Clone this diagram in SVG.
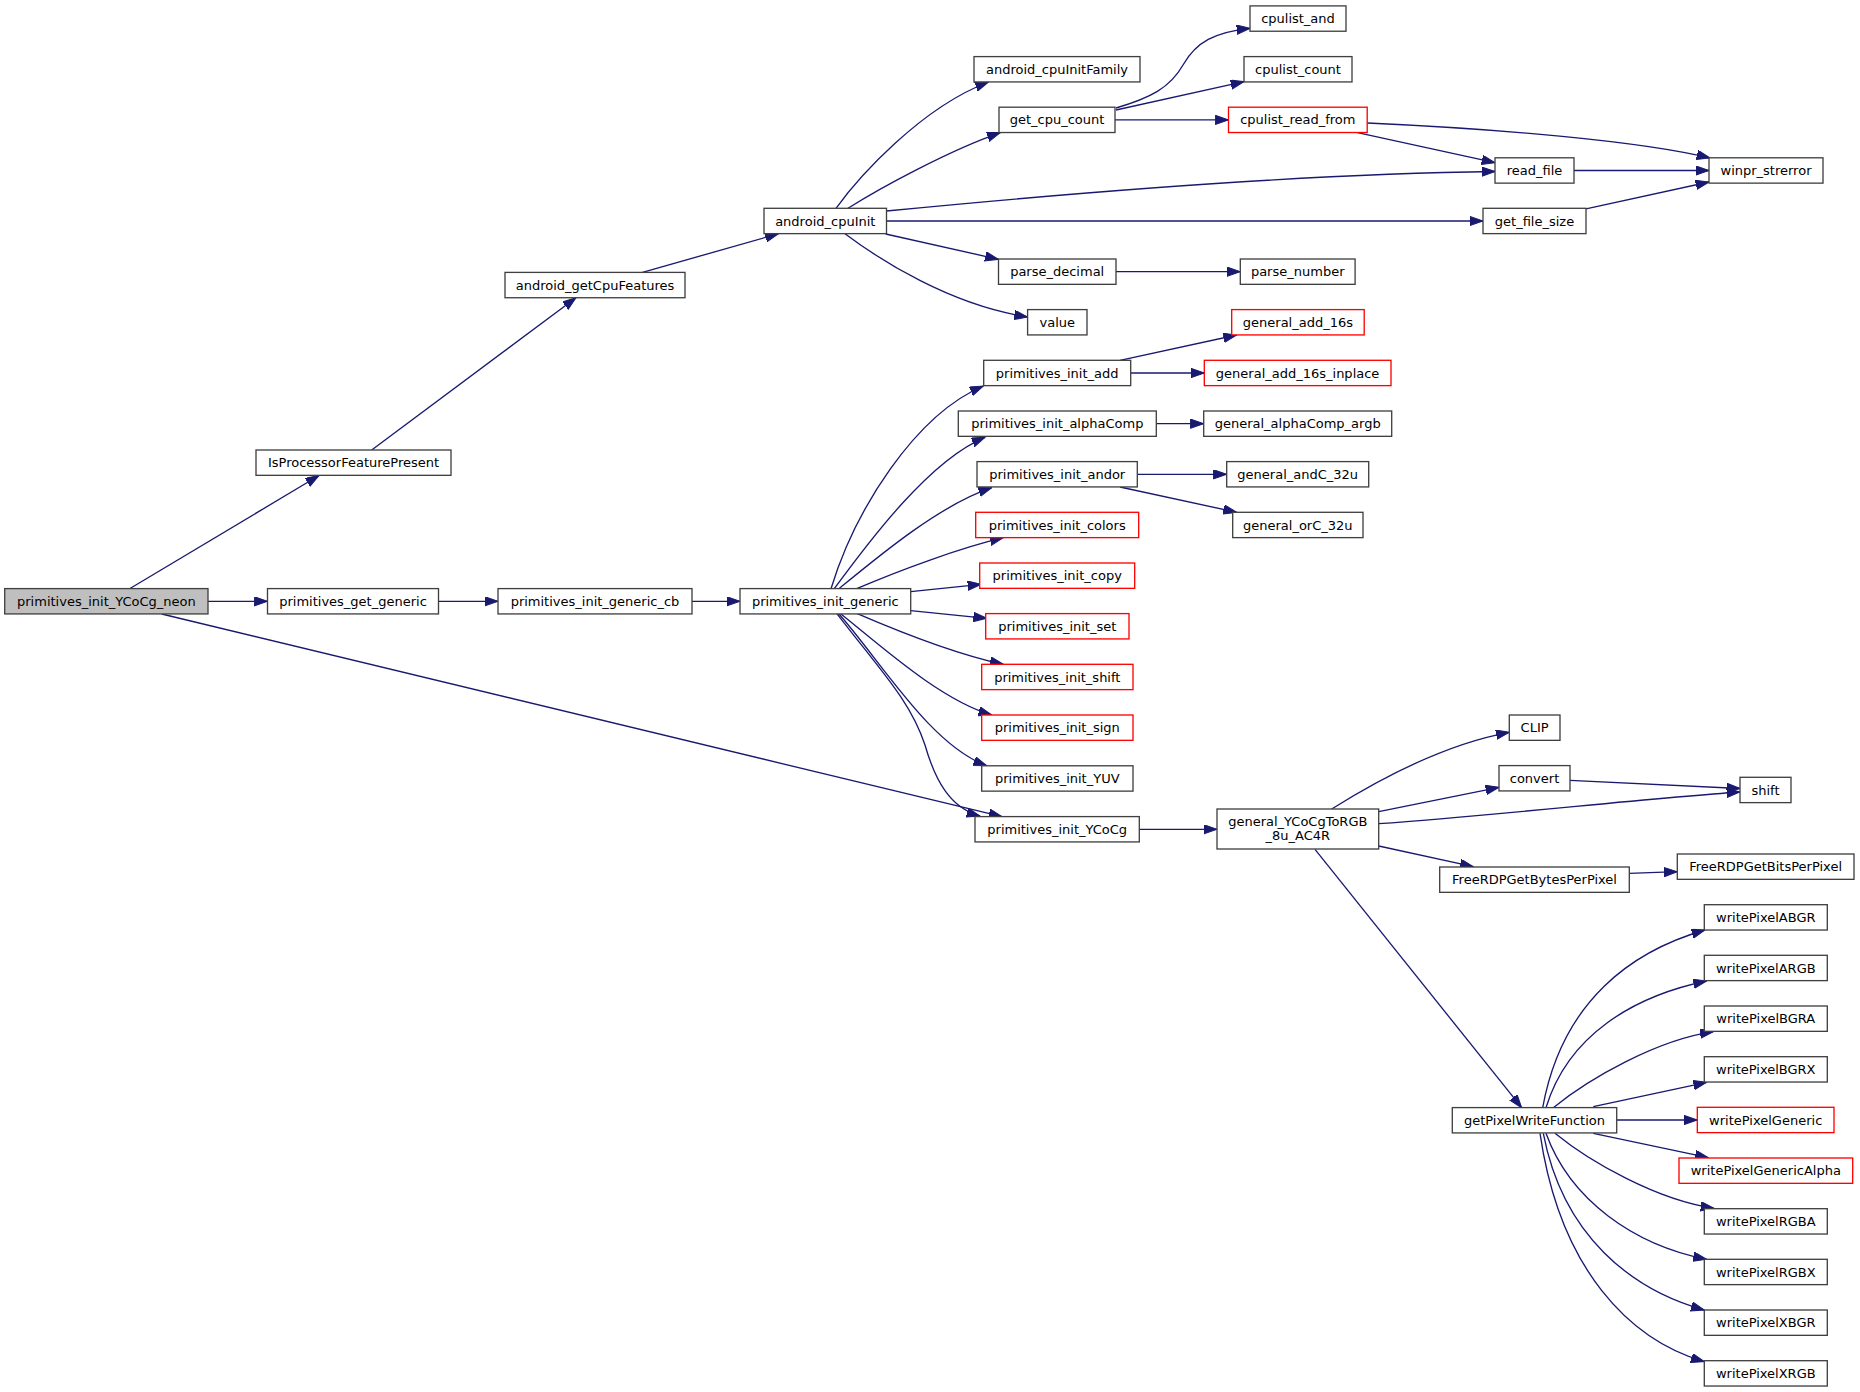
<svg xmlns="http://www.w3.org/2000/svg" width="1860" height="1392" viewBox="0 0 1860 1392">
<defs>
<style>
.n rect{fill:#ffffff;stroke:#404040;stroke-width:1.33}
.r rect{fill:#ffffff;stroke:#ff0000;stroke-width:1.33}
.c rect{fill:#bfbfbf;stroke:#404040;stroke-width:1.33}
text{font-family:"DejaVu Sans","Liberation Sans",sans-serif;font-size:13px;text-anchor:middle;fill:#000000}
#edges path{fill:none;stroke:#191970;stroke-width:1.33;marker-end:url(#a)}
</style>
<marker id="a" markerUnits="userSpaceOnUse" markerWidth="14" markerHeight="10" refX="13.3" refY="4.67" orient="auto">
<path d="M0,0 L13.3,4.67 L0,9.33 z" fill="#191970" stroke="#191970" stroke-width="1"/>
</marker>
</defs>
<rect x="0" y="0" width="1860" height="1392" fill="#ffffff"/>
<g id="edges">
<path d="M130,588.5 L319,475.5"/>
<path d="M208,601.3 L267.5,601.3"/>
<path d="M161.7,614 L1002,816.7"/>
<path d="M438.5,601.3 L498,601.3"/>
<path d="M692,601.3 L740,601.3"/>
<path d="M371.7,450 L576,297.7"/>
<path d="M642.5,272.4 L778.5,233.7"/>
<path d="M836,208.3 C858,178 920,108 988.5,82"/>
<path d="M848,208.3 C880,188 950,150 1000.4,132.6"/>
<path d="M886.5,211 C1050,195 1300,174 1495,171.5"/>
<path d="M886.5,221 L1483,221"/>
<path d="M885.7,234 L998.4,259.3"/>
<path d="M845,233.7 C880,260 950,305 1027.6,317"/>
<path d="M1116,108 C1150,98 1170,88 1183,65 C1196,42 1215,32 1250,28.3"/>
<path d="M1116,110 L1244,81.7"/>
<path d="M1115,119.9 L1228.5,119.9"/>
<path d="M1367.3,123 C1500,129 1640,141 1710,158"/>
<path d="M1357.5,132.7 L1495,162.7"/>
<path d="M1574,170.5 L1709,170.5"/>
<path d="M1586,208.8 L1709,182"/>
<path d="M1116,271.7 L1240.3,271.7"/>
<path d="M1120,360.3 L1236.7,335"/>
<path d="M1130.7,373 L1204.3,373"/>
<path d="M1156.3,423.7 L1203.7,423.7"/>
<path d="M1137.3,474.3 L1226.7,474.3"/>
<path d="M1120,487 L1236.7,512.3"/>
<path d="M831,588.7 C855,510 915,415 983.3,386"/>
<path d="M834.3,588.7 C870,540 930,460 985,437.3"/>
<path d="M839,588.7 C880,555 940,505 991.7,487.7"/>
<path d="M856.7,588.7 C900,570 960,548 1003.3,537.7"/>
<path d="M910.7,591.7 L981,584.3"/>
<path d="M910.7,610.7 L986.7,618.3"/>
<path d="M856.7,613.3 C900,632 960,655 1003.3,664.3"/>
<path d="M840,613.3 C880,645 940,700 991.7,715"/>
<path d="M838.3,613.3 C880,660 930,745 986.7,765.7"/>
<path d="M836.7,613.3 C880,670 910,700 925,745 C935,780 950,808 980,816"/>
<path d="M1139.3,829.3 L1217,829.3"/>
<path d="M1331.7,809 C1370,785 1440,745 1509.3,732.3"/>
<path d="M1378.7,811.7 L1499,787.3"/>
<path d="M1378.7,823.7 C1500,815 1650,798 1740,792"/>
<path d="M1570,780.3 L1740,788.5"/>
<path d="M1378.7,846 L1473.3,866.7"/>
<path d="M1629.3,873.3 L1677.3,871.7"/>
<path d="M1315,849.3 L1521.7,1107.7"/>
<path d="M1542.7,1107.7 C1562,1001 1632,951 1705,930"/>
<path d="M1546,1107.7 C1568,1035 1634,996 1706.7,981"/>
<path d="M1553.3,1107.7 C1590,1078 1657,1040 1713.3,1031.7"/>
<path d="M1593.3,1106.7 L1706.7,1082.3"/>
<path d="M1616.7,1120 L1697.3,1120"/>
<path d="M1593.3,1133.3 L1708.3,1157.7"/>
<path d="M1555,1133.3 C1590,1162 1657,1200 1714,1208.3"/>
<path d="M1546,1133.3 C1570,1200 1634,1245 1706.7,1259.3"/>
<path d="M1543.3,1133.3 C1563,1236 1632,1290 1704.3,1310"/>
<path d="M1540,1133.3 C1560,1270 1630,1340 1704.3,1361.7"/>
</g>
<g id="node_neon" class="c"><rect x="4.7" y="588.6" width="203.3" height="25.33"/><text x="106.4" y="605.8">primitives_init_YCoCg_neon</text></g>
<g id="node_IsProcessorFeaturePresent" class="n"><rect x="256" y="450" width="195" height="25.33"/><text x="353.5" y="467.2">IsProcessorFeaturePresent</text></g>
<g id="node_primitives_get_generic" class="n"><rect x="267.5" y="588.6" width="171" height="25.33"/><text x="353" y="605.8">primitives_get_generic</text></g>
<g id="node_android_getCpuFeatures" class="n"><rect x="505" y="272.4" width="180" height="25.33"/><text x="595" y="289.6">android_getCpuFeatures</text></g>
<g id="node_primitives_init_generic_cb" class="n"><rect x="498" y="588.6" width="194" height="25.33"/><text x="595" y="605.8">primitives_init_generic_cb</text></g>
<g id="node_android_cpuInit" class="n"><rect x="764" y="208.3" width="122.5" height="25.33"/><text x="825.3" y="225.5">android_cpuInit</text></g>
<g id="node_primitives_init_generic" class="n"><rect x="740" y="588.6" width="170.7" height="25.33"/><text x="825.3" y="605.8">primitives_init_generic</text></g>
<g id="node_android_cpuInitFamily" class="n"><rect x="974" y="56.6" width="166" height="25.33"/><text x="1057" y="73.8">android_cpuInitFamily</text></g>
<g id="node_get_cpu_count" class="n"><rect x="999" y="107.2" width="116" height="25.33"/><text x="1057" y="124.4">get_cpu_count</text></g>
<g id="node_parse_decimal" class="n"><rect x="998.5" y="259" width="117.5" height="25.33"/><text x="1057.2" y="276.2">parse_decimal</text></g>
<g id="node_value" class="n"><rect x="1027.6" y="309.6" width="59.4" height="25.33"/><text x="1057.3" y="326.8">value</text></g>
<g id="node_primitives_init_add" class="n"><rect x="983.7" y="360.3" width="147" height="25.33"/><text x="1057.2" y="377.5">primitives_init_add</text></g>
<g id="node_primitives_init_alphaComp" class="n"><rect x="958.3" y="411" width="198" height="25.33"/><text x="1057.3" y="428.2">primitives_init_alphaComp</text></g>
<g id="node_primitives_init_andor" class="n"><rect x="977" y="461.6" width="160.3" height="25.33"/><text x="1057.2" y="478.8">primitives_init_andor</text></g>
<g id="node_primitives_init_colors" class="r"><rect x="975.7" y="512.3" width="163" height="25.33"/><text x="1057.2" y="529.5">primitives_init_colors</text></g>
<g id="node_primitives_init_copy" class="r"><rect x="979.7" y="563" width="155" height="25.33"/><text x="1057.2" y="580.2">primitives_init_copy</text></g>
<g id="node_primitives_init_set" class="r"><rect x="985.7" y="613.6" width="143.3" height="25.33"/><text x="1057.3" y="630.8">primitives_init_set</text></g>
<g id="node_primitives_init_shift" class="r"><rect x="981.7" y="664.3" width="151.3" height="25.33"/><text x="1057.3" y="681.5">primitives_init_shift</text></g>
<g id="node_primitives_init_sign" class="r"><rect x="981.7" y="715" width="151.3" height="25.33"/><text x="1057.3" y="732.2">primitives_init_sign</text></g>
<g id="node_primitives_init_YUV" class="n"><rect x="981.7" y="765.8" width="151.3" height="25.33"/><text x="1057.3" y="783">primitives_init_YUV</text></g>
<g id="node_primitives_init_YCoCg" class="n"><rect x="975" y="816.6" width="164.3" height="25.33"/><text x="1057.2" y="833.8">primitives_init_YCoCg</text></g>
<g id="node_cpulist_and" class="n"><rect x="1250" y="5.9" width="96" height="25.33"/><text x="1298" y="23.1">cpulist_and</text></g>
<g id="node_cpulist_count" class="n"><rect x="1244" y="56.6" width="108" height="25.33"/><text x="1298" y="73.8">cpulist_count</text></g>
<g id="node_cpulist_read_from" class="r"><rect x="1228.5" y="107.2" width="138.7" height="25.33"/><text x="1297.8" y="124.4">cpulist_read_from</text></g>
<g id="node_parse_number" class="n"><rect x="1240.3" y="259" width="114.8" height="25.33"/><text x="1297.7" y="276.2">parse_number</text></g>
<g id="node_general_add_16s" class="r"><rect x="1231.7" y="309.6" width="132.5" height="25.33"/><text x="1297.9" y="326.8">general_add_16s</text></g>
<g id="node_general_add_16s_inplace" class="r"><rect x="1204.3" y="360.3" width="186.7" height="25.33"/><text x="1297.6" y="377.5">general_add_16s_inplace</text></g>
<g id="node_general_alphaComp_argb" class="n"><rect x="1203.7" y="411" width="188" height="25.33"/><text x="1297.7" y="428.2">general_alphaComp_argb</text></g>
<g id="node_general_andC_32u" class="n"><rect x="1226.7" y="461.6" width="142" height="25.33"/><text x="1297.7" y="478.8">general_andC_32u</text></g>
<g id="node_general_orC_32u" class="n"><rect x="1232.7" y="512.3" width="130.3" height="25.33"/><text x="1297.8" y="529.5">general_orC_32u</text></g>
<g id="node_general_YCoCgToRGB_8u_AC4R" class="n"><rect x="1217" y="809" width="161.7" height="40"/><text x="1297.8" y="825.5">general_YCoCgToRGB</text><text x="1297.8" y="840">_8u_AC4R</text></g>
<g id="node_read_file" class="n"><rect x="1495" y="157.8" width="79" height="25.33"/><text x="1534.5" y="175">read_file</text></g>
<g id="node_get_file_size" class="n"><rect x="1483" y="208.3" width="103" height="25.33"/><text x="1534.5" y="225.5">get_file_size</text></g>
<g id="node_CLIP" class="n"><rect x="1509.3" y="715" width="50.7" height="25.33"/><text x="1534.6" y="732.2">CLIP</text></g>
<g id="node_convert" class="n"><rect x="1499" y="765.6" width="71" height="25.33"/><text x="1534.5" y="782.8">convert</text></g>
<g id="node_FreeRDPGetBytesPerPixel" class="n"><rect x="1439.7" y="867" width="189.6" height="25.33"/><text x="1534.5" y="884.2">FreeRDPGetBytesPerPixel</text></g>
<g id="node_getPixelWriteFunction" class="n"><rect x="1452.3" y="1107.6" width="164.4" height="25.33"/><text x="1534.5" y="1124.8">getPixelWriteFunction</text></g>
<g id="node_winpr_strerror" class="n"><rect x="1709" y="157.8" width="114" height="25.33"/><text x="1766" y="175">winpr_strerror</text></g>
<g id="node_shift" class="n"><rect x="1740" y="777.3" width="51" height="25.33"/><text x="1765.5" y="794.5">shift</text></g>
<g id="node_FreeRDPGetBitsPerPixel" class="n"><rect x="1677.3" y="854" width="176.7" height="25.33"/><text x="1765.6" y="871.2">FreeRDPGetBitsPerPixel</text></g>
<g id="node_writePixelABGR" class="n"><rect x="1704.3" y="904.7" width="123" height="25.33"/><text x="1765.8" y="921.9">writePixelABGR</text></g>
<g id="node_writePixelARGB" class="n"><rect x="1704.3" y="955.3" width="123" height="25.33"/><text x="1765.8" y="972.5">writePixelARGB</text></g>
<g id="node_writePixelBGRA" class="n"><rect x="1704.3" y="1006" width="123" height="25.33"/><text x="1765.8" y="1023.2">writePixelBGRA</text></g>
<g id="node_writePixelBGRX" class="n"><rect x="1704.3" y="1056.7" width="123" height="25.33"/><text x="1765.8" y="1073.9">writePixelBGRX</text></g>
<g id="node_writePixelGeneric" class="r"><rect x="1697.3" y="1107.3" width="136.7" height="25.33"/><text x="1765.7" y="1124.5">writePixelGeneric</text></g>
<g id="node_writePixelGenericAlpha" class="r"><rect x="1679" y="1158" width="173.7" height="25.33"/><text x="1765.8" y="1175.2">writePixelGenericAlpha</text></g>
<g id="node_writePixelRGBA" class="n"><rect x="1704.3" y="1208.7" width="123" height="25.33"/><text x="1765.8" y="1225.9">writePixelRGBA</text></g>
<g id="node_writePixelRGBX" class="n"><rect x="1704.3" y="1259.3" width="123" height="25.33"/><text x="1765.8" y="1276.5">writePixelRGBX</text></g>
<g id="node_writePixelXBGR" class="n"><rect x="1704.3" y="1310" width="123" height="25.33"/><text x="1765.8" y="1327.2">writePixelXBGR</text></g>
<g id="node_writePixelXRGB" class="n"><rect x="1704.3" y="1360.7" width="123" height="25.33"/><text x="1765.8" y="1377.9">writePixelXRGB</text></g>
</svg>
